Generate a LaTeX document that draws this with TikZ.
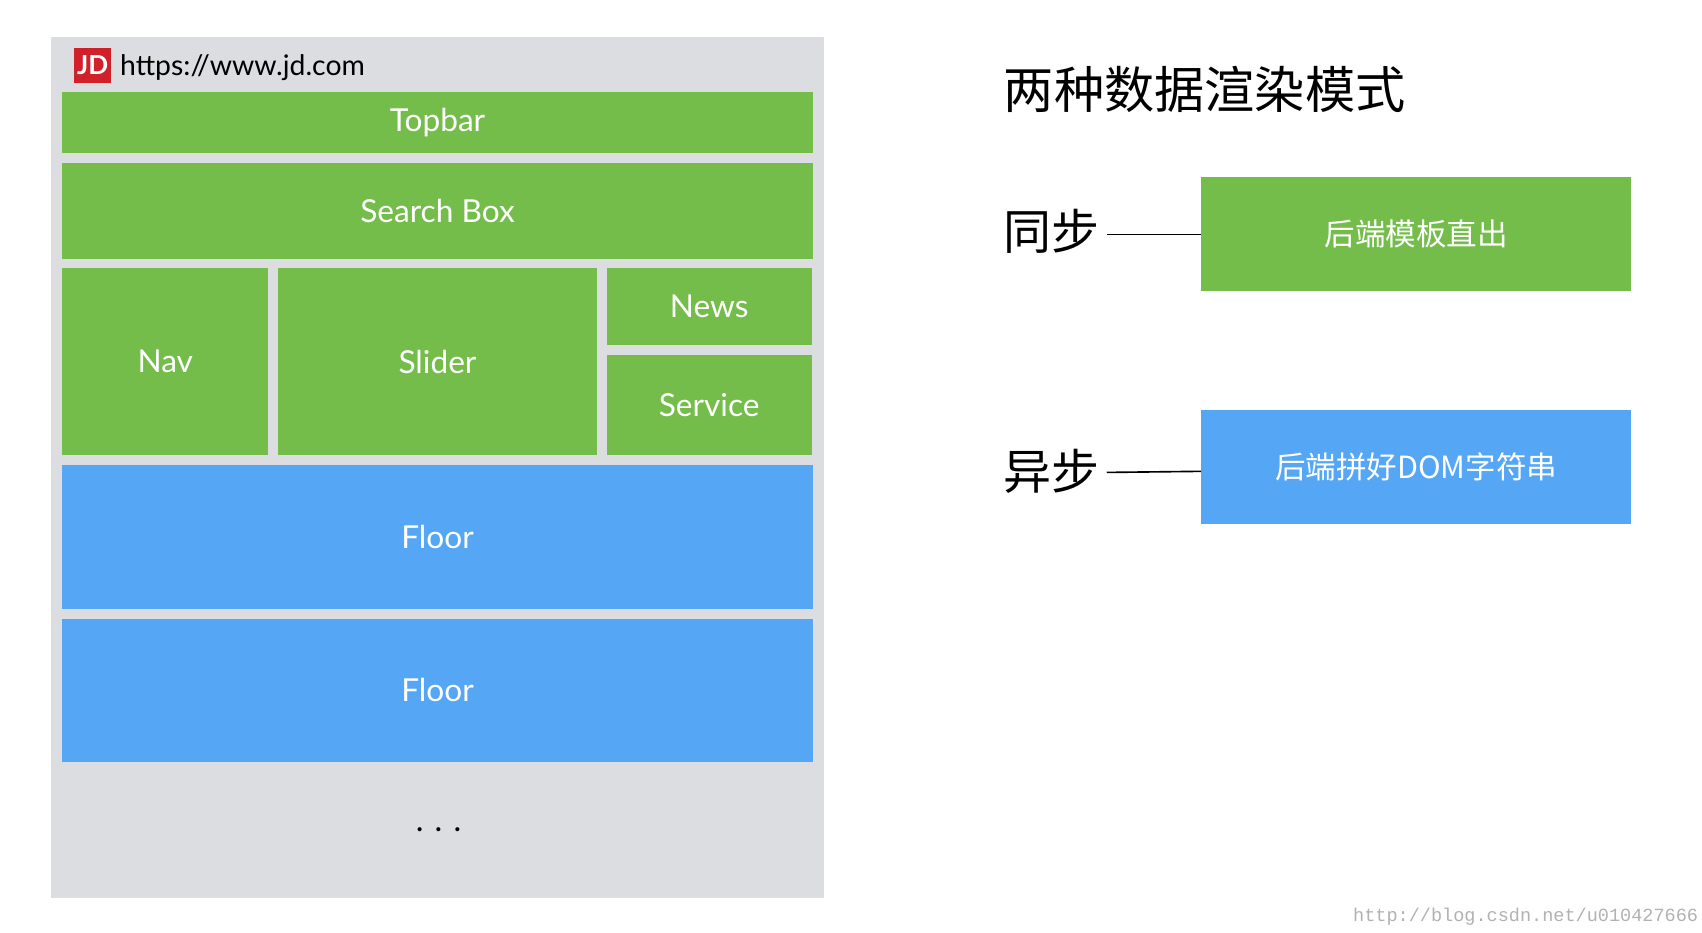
\documentclass[tikz,border=0pt]{standalone}
\usepackage{fontspec}
\setmainfont{Lato}
\newfontfamily\cjk{Noto Sans CJK SC}
\newfontfamily\wm{Liberation Mono}
\definecolor{panel}{HTML}{DCDDE0}
\definecolor{grn}{HTML}{74BD4A}
\definecolor{blu}{HTML}{55A7F5}
\definecolor{jdred}{HTML}{D0202A}
\begin{document}
\begin{tikzpicture}[x=1pt,y=-1pt,
  blk/.style={draw=none,text=white,font=\fontsize{29}{29}\selectfont},
  cblk/.style={draw=none,text=white,font=\cjk\fontsize{28}{28}\selectfont},
  lbl/.style={font=\cjk\fontsize{44}{44}\selectfont,inner sep=0pt}]
\useasboundingbox[fill=white] (0,0) rectangle (1560,855);
\fill[panel] (47,34) rectangle (755,823);
\node[fill=jdred,text=white,minimum width=34pt,minimum height=32pt,inner sep=0pt,font=\bfseries\fontsize{24}{24}\selectfont] (jd) at (85,60) {JD};
\node[anchor=west,inner sep=0pt,font=\fontsize{26}{26}\selectfont] (url) at (110,62) {https://www.jd.com};
\path[fill=grn] (57,84) rectangle (745,140) node[blk,midway] (topbar) {Topbar};
\path[fill=grn] (57,149) rectangle (745,237) node[blk,midway] (search) {Search Box};
\path[fill=grn] (57,246) rectangle (246,417) node[blk,midway] (nav) {Nav};
\path[fill=grn] (255,246) rectangle (547,417) node[blk,midway] (slider) {Slider};
\path[fill=grn] (556,246) rectangle (744,316) node[blk,midway] (news) {News};
\path[fill=grn] (556,325) rectangle (744,417) node[blk,midway] (service) {Service};
\path[fill=blu] (57,426) rectangle (745,558) node[blk,midway] (floor1) {Floor};
\path[fill=blu] (57,567) rectangle (745,698) node[blk,midway] (floor2) {Floor};
\node[font=\fontsize{30}{30}\selectfont] (dots) at (402,760) {. . .};
\node[anchor=west,inner sep=0pt,font=\cjk\fontsize{46}{46}\selectfont] (title) at (920,82) {两种数据渲染模式};
\node[anchor=west,lbl] (sync) at (920,212) {同步};
\node[anchor=west,lbl] (async) at (920,432) {异步};
\path[fill=grn] (1101,162) rectangle (1495,267) node[cblk,midway] (b1) {后端模板直出};
\path[fill=blu] (1101,376) rectangle (1495,480) node[cblk,midway] (b2) {后端拼好DOM字符串};
\coordinate (b1w) at (1101,215);
\coordinate (b2w) at (1101,432);
\draw[line width=1.5pt] (sync.east|-b1w) ++(6,0) -- (b1w);
\draw[line width=1.5pt] (async.east|-b2w) ++(6,1) -- (b2w);
\node[anchor=east,text=black!30,font=\wm\fontsize{17}{17}\selectfont] (wmk) at (1560,840) {http://blog.csdn.net/u010427666};
\end{tikzpicture}
\end{document}
